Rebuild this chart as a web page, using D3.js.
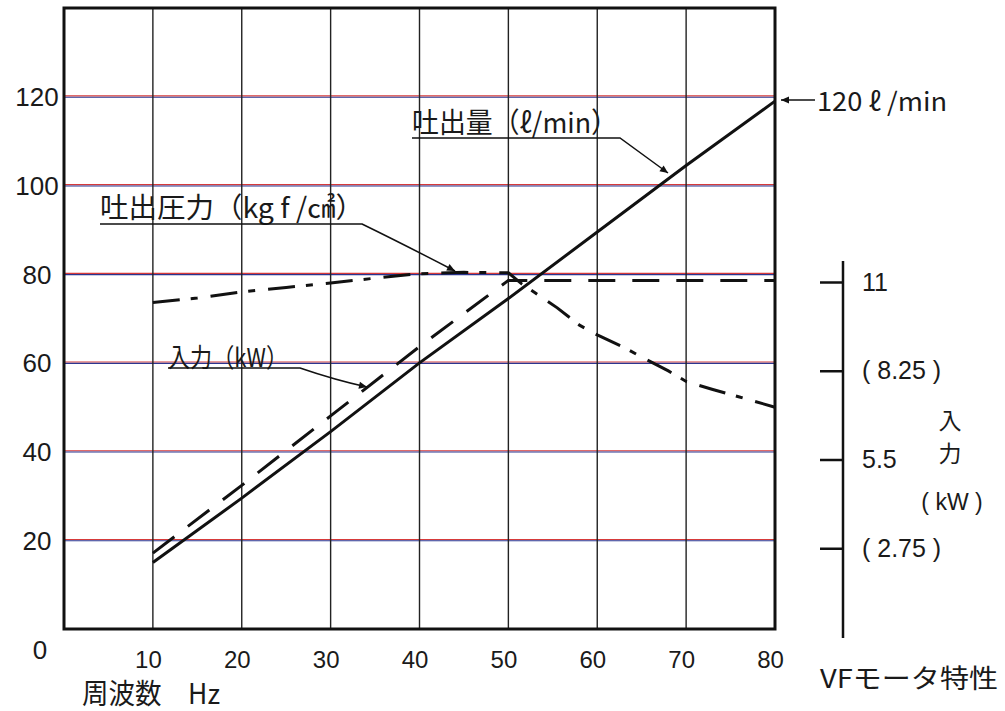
<!DOCTYPE html>
<html>
<head>
<meta charset="utf-8">
<script src="https://cdn.jsdelivr.net/npm/d3@7"></script>
<style>
  body { margin: 0; background: #fff; }
  svg text { font-family: "Liberation Sans", Arial, sans-serif; fill: #1a1a1a; }
  svg .jp { font-family: "Noto Sans CJK JP", "Liberation Sans", sans-serif; }
</style>
</head>
<body>
<svg id="chart" width="1005" height="711"></svg>
<script>
// tick values / labels
const freqTicks = [10, 20, 30, 40, 50, 60, 70, 80];
const leftTicks = [0, 20, 40, 60, 80, 100, 120];
const rightTicks = [2.75, 5.5, 8.25, 11];
const rightLabels = ["( 2.75 )", "5.5", "( 8.25 )", "11"];

// 吐出量 (l/min)
const flowFreq = [10, 20, 30, 40, 50, 60, 70, 80];
const flowValues = [15, 29.5, 44.5, 60, 74.5, 89.5, 104.5, 119];

// 入力 (kW) - right axis
const inputFreq = [10, 20, 30, 40, 50, 60, 70, 80];
const inputKW = [2.6, 4.7, 6.85, 9.0, 11.05, 11.05, 11.05, 11.05];

// 吐出圧力 (kgf/cm2)
const pressFreq = [10, 15, 20, 25, 30, 35, 40, 45, 50, 51.5, 53, 55.5, 58, 60, 63, 65, 68, 70, 73, 76, 80];
const pressValues = [73.6, 74.6, 76, 77, 78, 79.1, 80.1, 80.4, 80.3, 77.8, 75.8, 72.4, 68.5, 66.3, 63.5, 61.3, 58.2, 55.8, 54, 52.3, 50];

const svg = d3.select("#chart");

// scales
const x = d3.scaleLinear().domain([0, 80]).range([64, 775]);
const y = d3.scaleLinear().domain([0, 140]).range([629, 8]);
const yR = d3.scaleLinear().domain([0, 11]).range([637, 282]);

const defs = svg.append("defs");
defs.append("marker")
  .attr("id", "arr")
  .attr("viewBox", "0 0 10 10")
  .attr("refX", 10).attr("refY", 5)
  .attr("markerWidth", 14).attr("markerHeight", 8)
  .attr("markerUnits", "userSpaceOnUse")
  .attr("orient", "auto")
  .append("path").attr("d", "M0,0.5 L10,5 L0,9.5 Z").attr("fill", "#111");

// horizontal grid (red/blue print fringe)
const hg = svg.append("g");
leftTicks.filter(v => v > 0).forEach(v => {
  hg.append("line")
    .attr("x1", x(0)).attr("x2", x(80))
    .attr("y1", y(v) - 0.8).attr("y2", y(v) - 0.8)
    .attr("stroke", "#d63a3a").attr("stroke-width", 1.1);
  hg.append("line")
    .attr("x1", x(0)).attr("x2", x(80))
    .attr("y1", y(v) + 0.5).attr("y2", y(v) + 0.5)
    .attr("stroke", "#2b3590").attr("stroke-width", 1.1);
});

// vertical grid
svg.append("g").selectAll("line")
  .data(freqTicks.filter(f => f < 80))
  .join("line")
    .attr("x1", d => x(d)).attr("x2", d => x(d))
    .attr("y1", y(140)).attr("y2", y(0))
    .attr("stroke", "#222").attr("stroke-width", 1.4);

// frame
svg.append("rect")
  .attr("x", x(0)).attr("y", y(140))
  .attr("width", x(80) - x(0)).attr("height", y(0) - y(140))
  .attr("fill", "none").attr("stroke", "#111").attr("stroke-width", 3);

// left axis labels
const leftAxis = d3.axisLeft(y).tickValues(leftTicks).tickSize(0).tickFormat(d3.format("d"));
const gl = svg.append("g").attr("transform", `translate(${x(0)},0)`).call(leftAxis);
gl.select(".domain").remove();
gl.selectAll("text")
  .attr("x", -27).attr("text-anchor", "middle")
  .attr("font-size", 26)
  .attr("dy", d => d === 0 ? "1.15em" : "0.35em")
  .attr("dx", d => d === 0 ? 3 : 0);

// bottom axis labels
const bottomAxis = d3.axisBottom(x).tickValues(freqTicks).tickSize(0).tickPadding(22);
const gb = svg.append("g").attr("transform", `translate(0,${y(0)})`).call(bottomAxis);
gb.select(".domain").remove();
gb.selectAll("text").attr("font-size", 24).attr("dx", -5);

// right axis (kW)
const rightAxis = d3.axisRight(yR).tickValues(rightTicks)
  .tickSizeInner(-23).tickSizeOuter(0).tickPadding(19)
  .tickFormat((d, i) => rightLabels[i]);
const gr = svg.append("g").attr("transform", "translate(843,0)").call(rightAxis);
gr.select(".domain").attr("d", `M0,${yR(0) + 1}V${yR(11.65)}`).attr("stroke", "#111").attr("stroke-width", 2.5);
gr.selectAll(".tick line").attr("stroke", "#111").attr("stroke-width", 2.5);
gr.selectAll("text").attr("font-size", 25).attr("fill", "#1a1a1a");

// lines
const line = d3.line().x(d => x(d[0])).y(d => y(d[1]));
const lineR = d3.line().x(d => x(d[0])).y(d => yR(d[1]));

svg.append("path")
  .datum(flowFreq.map((f, i) => [f, flowValues[i]]))
  .attr("d", line)
  .attr("fill", "none").attr("stroke", "#111").attr("stroke-width", 3);

svg.append("path")
  .datum(inputFreq.map((f, i) => [f, inputKW[i]]))
  .attr("d", lineR)
  .attr("fill", "none").attr("stroke", "#111").attr("stroke-width", 3)
  .attr("stroke-dasharray", "27,17");

svg.append("path")
  .datum(pressFreq.map((f, i) => [f, pressValues[i]]))
  .attr("d", line)
  .attr("fill", "none").attr("stroke", "#111").attr("stroke-width", 3)
  .attr("stroke-dasharray", "27,11,7,13");

// annotations
function label(txt, cx, cy, size, len, anchor) {
  const t = svg.append("text").attr("class", "jp")
    .attr("x", cx).attr("y", cy)
    .attr("font-size", size)
    .attr("dominant-baseline", "central")
    .attr("text-anchor", anchor || "start")
    .text(txt);
  if (len) t.attr("textLength", len).attr("lengthAdjust", "spacingAndGlyphs");
  return t;
}
function leader(d) {
  svg.append("path").attr("d", d)
    .attr("fill", "none").attr("stroke", "#111").attr("stroke-width", 1.5)
    .attr("marker-end", "url(#arr)");
}

label("吐出量（ℓ/min）", 412, 121, 28, 206);
leader("M412,138 H620 L668,173");

label("吐出圧力（kg f /㎠）", 100, 206, 28, 264);
leader("M100,224 H362 Q405,245 455,271");

label("入力（kW）", 168, 355, 26, 120);
leader("M168,368 H300 Q335,380 367,387");

// 120 l/min end label
svg.append("path").attr("d", "M815,100 H781")
  .attr("fill", "none").attr("stroke", "#111").attr("stroke-width", 1.5)
  .attr("marker-end", "url(#arr)");
label("120 ℓ /min", 817, 99, 26, 130);

// axis titles
label("周波数　Hz", 82, 692, 28, 138);
label("VFモータ特性", 820, 676, 26, 178);
label("入", 950, 419, 23, null, "middle");
label("力", 950, 452, 23, null, "middle");
svg.append("text")
  .attr("x", 952).attr("y", 502)
  .attr("font-size", 23).attr("text-anchor", "middle")
  .attr("dominant-baseline", "central")
  .text("( kW )");
</script>
</body>
</html>
